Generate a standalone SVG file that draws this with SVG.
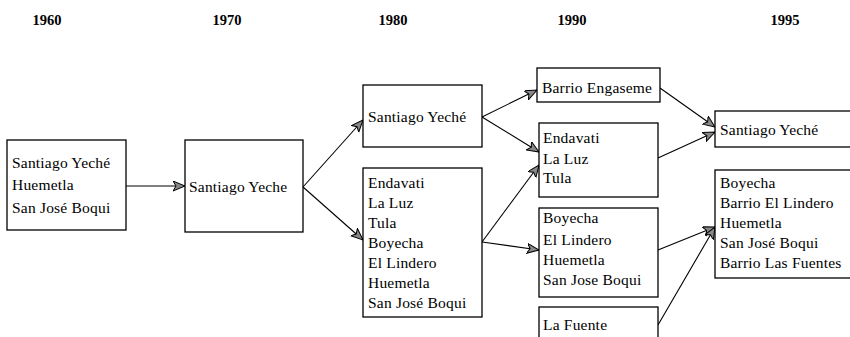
<svg xmlns="http://www.w3.org/2000/svg" width="850" height="337" viewBox="0 0 850 337">
<style>
.yr{font-family:"Liberation Serif","Times New Roman",serif;font-size:14.5px;font-weight:bold;fill:#000;text-anchor:middle}
.t{font-family:"Liberation Serif","Times New Roman",serif;font-size:15.5px;letter-spacing:0.2px;fill:#000}
.box{fill:#fff;stroke:#000;stroke-width:1.3}
.c{stroke:#000;stroke-width:1.1;fill:none;marker-end:url(#ah)}
</style>
<defs>
<marker id="ah" markerWidth="14" markerHeight="12" refX="12" refY="5" orient="auto" markerUnits="userSpaceOnUse">
<path d="M0,0 L12,5 L0,10 L3,5 Z" fill="#888" stroke="#000" stroke-width="1"/>
</marker>
</defs>
<rect width="850" height="337" fill="#fff"/>
<g id="years">
<text class="yr" x="47" y="25">1960</text>
<text class="yr" x="227" y="25">1970</text>
<text class="yr" x="393" y="25">1980</text>
<text class="yr" x="572" y="25">1990</text>
<text class="yr" x="785" y="25">1995</text>
</g>
<g id="connectors">
<line class="c" x1="126" y1="186" x2="185" y2="186"/>
<line class="c" x1="303" y1="187" x2="363" y2="120"/>
<line class="c" x1="303" y1="187" x2="363" y2="240"/>
<line class="c" x1="482" y1="117" x2="537" y2="90"/>
<line class="c" x1="482" y1="117" x2="539" y2="152"/>
<line class="c" x1="482" y1="242" x2="539" y2="165"/>
<line class="c" x1="482" y1="242" x2="539" y2="250"/>
<line class="c" x1="660" y1="88" x2="715" y2="127"/>
<line class="c" x1="658" y1="158" x2="715" y2="132"/>
<line class="c" x1="658" y1="250" x2="715" y2="227"/>
<line class="c" x1="658" y1="325" x2="715" y2="227"/>
</g>
<g id="n1960">
<rect class="box" x="7" y="140" width="119" height="90"/>
<text class="t" x="12" y="168">Santiago Yeché</text>
<text class="t" x="12" y="190">Huemetla</text>
<text class="t" x="12" y="213">San José Boqui</text>
</g>
<g id="n1970">
<rect class="box" x="185" y="140" width="118" height="92"/>
<text class="t" x="189" y="192">Santiago Yeche</text>
</g>
<g id="n1980a">
<rect class="box" x="363" y="85" width="119" height="62"/>
<text class="t" x="368" y="122">Santiago Yeché</text>
</g>
<g id="n1980b">
<rect class="box" x="363" y="168" width="119" height="149"/>
<text class="t" x="368" y="188">Endavati</text>
<text class="t" x="368" y="208">La Luz</text>
<text class="t" x="368" y="228">Tula</text>
<text class="t" x="368" y="248">Boyecha</text>
<text class="t" x="368" y="268">El Lindero</text>
<text class="t" x="368" y="288">Huemetla</text>
<text class="t" x="368" y="308">San José Boqui</text>
</g>
<g id="n1990a">
<rect class="box" x="537" y="68" width="123" height="34"/>
<text class="t" x="542" y="93">Barrio Engaseme</text>
</g>
<g id="n1990b">
<rect class="box" x="539" y="123" width="119" height="74"/>
<text class="t" x="543" y="143">Endavati</text>
<text class="t" x="543" y="164">La Luz</text>
<text class="t" x="543" y="183">Tula</text>
</g>
<g id="n1990c">
<rect class="box" x="539" y="208" width="119" height="89"/>
<text class="t" x="543" y="223">Boyecha</text>
<text class="t" x="543" y="245">El Lindero</text>
<text class="t" x="543" y="265">Huemetla</text>
<text class="t" x="543" y="285">San Jose Boqui</text>
</g>
<g id="n1990d">
<rect class="box" x="539" y="307" width="119" height="45"/>
<text class="t" x="543" y="330">La Fuente</text>
</g>
<g id="n1995a">
<rect class="box" x="715" y="111" width="145" height="36"/>
<text class="t" x="720" y="135">Santiago Yeché</text>
</g>
<g id="n1995b">
<rect class="box" x="715" y="170" width="145" height="108"/>
<text class="t" x="720" y="188">Boyecha</text>
<text class="t" x="720" y="208">Barrio El Lindero</text>
<text class="t" x="720" y="228">Huemetla</text>
<text class="t" x="720" y="248">San José Boqui</text>
<text class="t" x="720" y="268">Barrio Las Fuentes</text>
</g>
</svg>
